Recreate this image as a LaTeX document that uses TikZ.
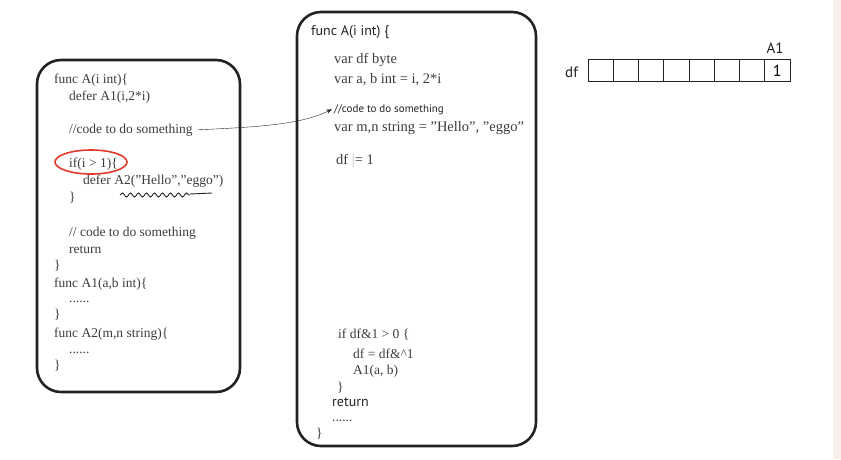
\documentclass[tikz,border=0pt]{standalone}
\usepackage{fontspec}
\setmainfont{Liberation Serif}
\setsansfont{PT Sans}
\usetikzlibrary{arrows.meta,positioning,shapes.geometric,decorations.pathmorphing}
\definecolor{memink}{HTML}{222222}
\definecolor{memtext}{HTML}{3C3C3C}
\definecolor{memred}{HTML}{E0392B}
\definecolor{memedge}{HTML}{FBEFEA}
\tikzset{
  frame/.style={draw=memink, line width=2.6pt, rounded corners=24pt},
  code/.style={anchor=base west, inner sep=0pt, text=memtext, font=\fontsize{13.5}{15}\selectfont},
  bigcode/.style={code, font=\fontsize{14.5}{16}\selectfont},
  hand/.style={anchor=base west, inner sep=0pt, text=memink, font=\sffamily\fontsize{14}{16}\selectfont},
  note/.style={anchor=base west, inner sep=0pt, text=memink, font=\sffamily\fontsize{11}{13}\selectfont},
  cell/.style={draw=memink, line width=0.8pt, minimum width=25.25pt, minimum height=22pt, inner sep=0pt, font=\sffamily\fontsize{15}{17}\selectfont},
  arr/.style={-{Stealth[length=2mm]}, thin, color=memink},
}
\begin{document}
\begin{tikzpicture}[x=1pt,y=-1pt]
  \useasboundingbox (0,0) rectangle (841,459);
  \fill[memedge] (833,0) rectangle (841,459);
  % caller
  \draw[frame] (37,60) rectangle (240,392);
  \node[code] (fA)   at (54,83)  {func A(i int)\{};
  \node[code] (dA1)  at (69,100) {defer A1(i,2*i)};
  \node[code] (cmtL) at (69,133) {//code to do something};
  \node[code] (ifL)  at (69,167) {if(i > 1)\{};
  \node[code] (dA2)  at (83,184) {defer A2(''Hello'',''eggo'')};
  \node[code] (ifE)  at (69,201) {\}};
  \node[code] (cmt2) at (69,236) {// code to do something};
  \node[code] (retL) at (69,253) {return};
  \node[code] (fAE)  at (54,269) {\}};
  \node[code] (fA1)  at (54,287) {func A1(a,b int)\{};
  \node[code] (dot1) at (69,302) {......};
  \node[code] (fA1E) at (54,318) {\}};
  \node[code] (fA2)  at (54,337) {func A2(m,n string)\{};
  \node[code] (dot2) at (69,353) {......};
  \node[code] (fA2E) at (54,369) {\}};
  \draw[memred, line width=1.6pt] (91,162) ellipse (36 and 12);
  \draw[memink, line width=0.9pt, decorate, decoration={snake, amplitude=2pt, segment length=8pt}] (120,195) -- (190,195);
  \draw[memink, line width=0.9pt] (190,194) -- (212,193);
  % expanded
  \draw[frame] (297,12) rectangle (536,446);
  \node[hand] (fB)   at (311,35)  {func A(i int) \{};
  \node[bigcode] (vdf)  at (334,63)  {var df byte};
  \node[bigcode] (vab)  at (334,83)  {var a, b int = i, 2*i};
  \node[note] (cmtM) at (334,112) {//code to do something};
  \node[bigcode] (vmn)  at (334,131) {var m,n string = ''Hello'', ''eggo''};
  \node[bigcode] (dfor) at (336,164) {df {\color{gray!60}|}= 1};
  \node[code] (ifM)  at (338,338) {if df\&1 > 0 \{};
  \node[code] (dfc)  at (353,358) {df = df\&\textasciicircum1};
  \node[code] (cA1)  at (353,374) {A1(a, b)};
  \node[code] (ifME) at (337,391) {\}};
  \node[hand] (retM) at (332,406) {return};
  \node[code] (dotM) at (332,421) {......};
  \node[code] (fBE)  at (316,437) {\}};
  \draw[arr] ([xshift=5pt]cmtL.east) .. controls (262,127) and (302,124) .. ([xshift=-2pt]cmtM.west);
  % df bits
  \node[hand, font=\sffamily\fontsize{15}{17}\selectfont] (dfl) at (565,77) {df};
  \foreach \i in {0,...,7}
    \node[cell] (c\i) at (600.6+25.25*\i,70.5) {};
  \node[font=\sffamily\fontsize{16}{18}\selectfont, inner sep=0pt] at (c7) {1};
  \node[hand, anchor=base, font=\sffamily\fontsize{15}{17}\selectfont] (a1) at (775,53) {A1};
\end{tikzpicture}
\end{document}
